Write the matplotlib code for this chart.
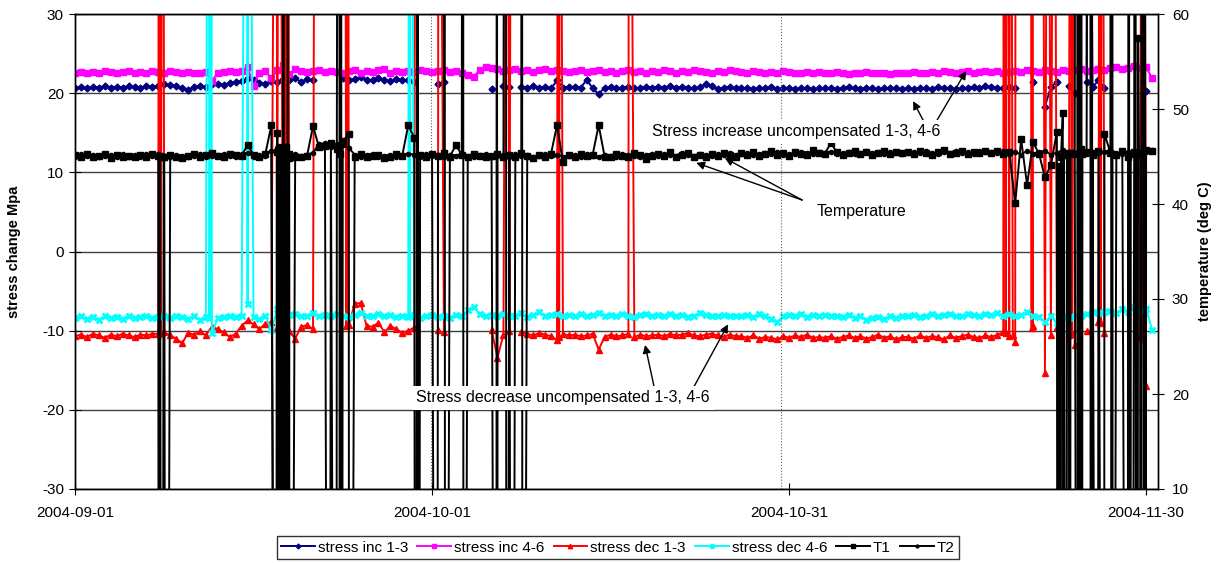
import numpy as np
import matplotlib
matplotlib.use("Agg")
import matplotlib.pyplot as plt
import matplotlib.dates as mdates

plt.rcParams['font.family'] = ['Liberation Sans', 'DejaVu Sans']
plt.rcParams['axes.unicode_minus'] = False

nan = np.nan
start = "2004-09-01"
step = 0.5   # logger values every 12 h, one row = one week

# stress inc 1-3 (Mpa)
inc13 = [20.7,20.8,20.6,20.8,20.7,20.9,20.7,20.8,20.7,20.9,20.8,20.7,20.9,20.8,
         20.9,21.1,21.0,20.9,20.6,20.4,20.8,20.9,20.8,21.1,21.2,21.0,21.3,21.4,
         21.5,21.9,21.6,21.3,21.2,21.5,21.4,21.8,21.6,21.9,21.4,21.8,21.6,nan,
         nan,nan,nan,21.9,21.6,21.8,22.0,21.7,21.6,21.9,21.7,21.5,21.8,21.6,
         21.6,21.4,nan,nan,nan,21.2,21.4,nan,nan,nan,nan,nan,nan,nan,
         20.5,nan,20.9,20.8,nan,20.8,20.7,20.9,20.7,20.8,20.6,21.6,20.7,20.8,
         20.8,20.7,21.7,20.6,19.9,20.7,20.8,20.6,20.7,20.8,20.6,20.7,20.8,20.7,
         20.8,20.7,20.9,20.7,20.8,20.7,20.6,20.8,21.1,20.9,20.5,20.7,20.8,20.6,
         20.6,20.7,20.5,20.7,20.6,20.8,20.5,20.6,20.7,20.5,20.6,20.7,20.5,20.6,
         20.6,20.7,20.5,20.6,20.8,20.6,20.5,20.7,20.6,20.5,20.6,20.7,20.6,20.5,
         20.6,20.5,20.7,20.6,20.5,20.8,20.6,20.7,20.5,20.6,20.7,20.8,20.6,20.9,
         20.8,20.7,20.6,20.8,20.7,nan,nan,21.4,nan,18.3,20.8,21.4,nan,20.9,
         20.0,nan,21.4,20.8,21.6,20.7,nan,nan,nan,nan,nan,nan,20.3,nan]
inc13_ev_day = [85.1]
inc13_ev_val = [99]

# stress inc 4-6
inc46 = [22.6,22.7,22.5,22.7,22.6,22.8,22.7,22.6,22.7,22.8,22.6,22.7,22.6,22.8,
         22.7,22.6,22.8,22.7,22.6,22.7,22.6,22.5,22.7,21.5,22.6,22.7,22.8,22.7,
         22.8,23.3,20.9,22.6,22.8,21.9,22.9,23.5,22.4,23.0,22.8,22.7,22.8,22.9,
         22.7,22.8,22.7,22.6,22.8,22.9,22.6,22.8,22.7,22.9,23.1,22.6,22.8,22.7,
         22.8,22.7,22.9,22.8,22.7,22.8,22.9,22.7,22.8,22.6,22.3,22.1,22.9,23.3,
         23.2,23.0,22.8,22.9,23.0,22.8,22.9,22.7,22.9,23.0,22.8,22.9,22.8,22.7,
         22.8,22.9,22.7,22.8,22.9,22.7,22.8,22.6,22.8,22.9,22.7,22.8,22.6,22.8,
         22.7,22.9,22.8,22.6,22.8,22.7,22.9,22.8,22.7,22.6,22.8,22.7,22.9,22.8,
         22.7,22.6,22.8,22.7,22.5,22.7,22.6,22.8,22.7,22.6,22.5,22.7,22.6,22.7,
         22.6,22.5,22.7,22.6,22.4,22.6,22.5,22.7,22.6,22.5,22.6,22.4,22.6,22.5,
         22.6,22.7,22.5,22.6,22.7,22.6,22.8,22.7,22.6,22.7,22.8,22.6,22.7,22.8,
         22.7,22.8,22.6,22.7,22.8,22.7,22.9,22.8,22.7,22.9,22.8,22.7,22.9,22.8,
         22.9,23.0,22.8,22.9,23.1,22.9,23.2,23.3,23.1,23.2,23.4,23.2,23.3,21.9]

# stress dec 1-3
dec13 = [-10.7,-10.5,-10.8,-10.4,-10.6,-10.9,-10.5,-10.7,-10.4,-10.6,-10.8,-10.5,-10.6,-10.4,
         -10.4,-10.2,-10.6,-11.0,-11.6,-10.3,-10.5,-10.1,-10.6,-9.5,-9.8,-10.2,-10.8,-10.4,
         -9.4,-8.7,-9.2,-9.8,-9.1,-8.9,-9.7,-9.3,-10.1,-11.0,-9.5,-9.3,-9.8,nan,
         nan,nan,nan,nan,-9.3,-6.6,-6.5,-9.4,-9.5,-9.0,-10.2,-9.4,-9.8,-10.3,
         -10.0,-9.6,nan,nan,nan,-9.9,-10.2,nan,nan,nan,nan,nan,nan,nan,
         -9.9,-13.4,-10.5,-10.1,nan,-10.2,-10.4,-10.6,-10.3,-10.5,-10.7,-11.2,-10.4,-10.6,
         -10.5,-10.7,-10.6,-10.4,-12.4,-10.8,-10.5,-10.7,-10.6,-10.4,-10.8,-10.5,-10.7,-10.6,
         -10.5,-10.7,-10.4,-10.6,-10.5,-10.3,-10.6,-10.7,-10.5,-10.4,-10.6,-10.8,-10.5,-10.7,
         -10.7,-10.9,-10.6,-11.0,-10.8,-10.9,-11.1,-10.7,-10.9,-10.6,-10.8,-10.5,-10.9,-10.8,
         -10.9,-10.7,-11.0,-10.8,-10.6,-10.9,-10.7,-11.0,-10.8,-10.5,-10.9,-10.7,-11.1,-10.8,
         -10.8,-11.0,-10.6,-10.9,-10.7,-10.8,-11.1,-10.6,-10.9,-10.7,-10.5,-10.8,-10.9,-10.6,
         -10.8,-10.5,-10.2,-10.7,-11.4,nan,nan,-9.4,nan,-15.3,-10.5,-9.5,nan,-10.5,
         -11.8,nan,-10.0,nan,-8.9,-10.3,nan,nan,nan,nan,nan,-10.8,-17.0,nan]
dec13_ev_day = [7.05, 7.2, 7.4, 16.9, 17.1, 17.6, 17.7, 17.8, 17.85, 17.9, 20.2,
                22.65, 22.8, 22.95, 28.65, 30.55, 36.3, 36.7, 40.6, 40.68, 40.75, 46.55,
                78.05, 78.2, 78.35, 78.6, 78.8, 79.05, 80.3, 80.38, 80.45, 81.25, 81.75,
                82.25, 83.65, 83.75, 83.85, 86.1, 86.2, 86.3, 89.65, 89.72, 89.8]
dec13_ev_val = [99, -10.3, 99, 99, 99, 99, -9.6, 99, -9.8, 99, 99,
                99, -9.4, 99, 99, 99, 99, 99, 99, -10.8, 99, 99,
                99, -10.3, 99, 99, -10.5, 99, 99, -9.6, 99, 99, 99,
                99, 99, -10.4, 99, 99, -9.0, 99, 99, -11.0, 99]

# stress dec 4-6
dec46 = [-8.4,-8.2,-8.5,-8.3,-8.6,-8.2,-8.4,-8.3,-8.5,-8.2,-8.4,-8.3,-8.2,-8.4,
         -8.3,-8.2,-8.4,-8.1,-8.3,-8.5,-8.2,-8.6,-8.3,-10.3,-8.4,-8.3,-8.2,-8.3,
         -8.2,-6.6,-8.3,-8.5,-8.2,-9.9,-7.3,-7.1,-8.0,-7.9,-8.2,-8.1,-7.8,-8.2,
         -8.0,-8.2,-7.9,-8.1,-8.3,-8.0,-7.8,-8.1,-8.2,-7.9,-8.1,-8.0,-8.3,-8.1,
         -8.3,-8.0,-8.4,-8.2,-8.0,-8.3,-8.1,-8.4,-8.0,-8.2,-7.4,-7.0,-7.9,-8.1,
         -8.0,-8.2,-7.9,-8.1,-8.2,-7.8,-8.3,-8.0,-7.7,-8.1,-8.0,-7.9,-8.2,-8.0,
         -8.1,-7.9,-8.2,-8.0,-7.8,-8.1,-8.0,-8.2,-7.9,-8.1,-8.3,-8.0,-7.9,-8.1,
         -8.0,-8.2,-7.9,-8.1,-8.0,-8.3,-8.1,-7.8,-8.0,-8.2,-8.1,-8.0,-8.2,-8.1,
         -8.2,-8.0,-8.3,-7.9,-8.1,-8.5,-8.9,-8.2,-8.0,-8.1,-7.9,-8.3,-8.0,-8.1,
         -8.0,-8.2,-8.1,-8.3,-8.0,-8.4,-8.2,-8.6,-8.4,-8.3,-8.5,-8.2,-8.4,-8.1,
         -8.2,-8.0,-8.3,-8.1,-7.9,-8.2,-8.0,-7.9,-8.1,-8.2,-7.9,-8.0,-8.1,-7.9,
         -8.0,-7.8,-8.1,-7.9,-8.2,-8.0,-7.7,-8.1,-8.3,-8.9,-8.2,-9.0,-8.3,-8.4,
         -8.1,-8.2,-7.9,-7.7,-7.8,-7.6,-7.5,-7.8,-7.3,-7.6,-7.0,-7.4,-7.2,-9.9]
dec46_ev_day = [11.2, 11.3, 11.45, 14.4, 14.6, 28.1, 28.15, 28.2]
dec46_ev_val = [99, -8.4, 99, 99, 99, 99, -8.2, 99]

# temperatures (deg C)
t1 = [45.2,45.0,45.3,44.9,45.1,45.3,44.8,45.2,45.0,45.1,44.9,45.2,45.0,45.3,
      45.1,44.9,45.2,45.0,44.8,45.1,45.3,45.0,45.2,45.4,45.1,45.0,45.3,45.2,
      45.1,46.2,45.2,45.0,45.3,48.3,47.5,45.1,44.8,45.0,44.9,45.1,48.2,46.0,
      46.1,46.4,45.8,46.6,47.4,45.0,45.3,44.9,45.1,45.2,44.8,45.0,45.3,45.1,
      48.3,47.0,45.2,45.0,45.3,45.1,45.4,45.0,46.2,45.2,44.9,45.3,45.1,45.0,
      45.1,45.3,44.9,45.2,45.0,45.4,45.1,44.8,45.2,45.0,45.3,48.3,44.4,45.2,
      45.0,45.3,45.1,45.2,48.3,45.0,44.9,45.3,45.1,45.0,45.4,45.2,44.7,45.1,
      45.3,45.1,45.5,45.0,45.2,45.4,44.9,45.2,45.0,45.3,45.1,45.4,45.2,45.0,
      45.4,45.2,45.5,45.1,45.3,45.6,45.2,45.4,45.1,45.5,45.3,45.2,45.7,45.4,
      45.3,46.4,45.5,45.2,45.4,45.6,45.3,45.5,45.2,45.4,45.6,45.3,45.5,45.4,
      45.5,45.3,45.6,45.4,45.2,45.5,45.7,45.3,45.4,45.6,45.3,45.5,45.4,45.6,
      45.4,45.6,45.3,45.5,40.1,46.8,42.0,46.5,45.3,42.8,44.1,47.6,49.6,45.4,
      45.3,45.8,45.5,45.2,45.6,47.4,45.4,45.2,45.6,45.0,45.5,45.3,45.7,45.6]
t1_ev_day = [7.05, 7.15, 7.3, 7.45, 7.65,
             16.9, 16.95, 17.05, 17.1, 17.2, 17.25, 17.3, 17.35, 17.4, 17.45, 17.52, 17.54,
             17.58, 17.65, 17.7, 17.75, 17.8, 17.85, 17.88, 17.92, 17.96, 18.03,
             21.35, 21.95, 22.2, 22.25, 22.3, 22.35, 22.4, 23.05,
             28.65, 28.8, 28.85, 30.4, 31.05, 31.1, 32.6, 32.65,
             35.4, 35.45, 35.48, 36.2, 36.25, 36.7, 37.55, 37.6,
             82.6, 82.65, 82.8, 82.85, 83.05, 83.1, 83.3, 83.35, 83.6, 83.65,
             84.2, 84.25, 84.35, 84.4, 84.55, 84.6, 84.65,
             85.3, 85.35, 85.45, 85.48, 85.9, 86.45,
             87.05, 87.1, 87.15, 87.2, 88.55, 88.6, 88.68, 88.75,
             89.1, 89.15, 89.2, 89.25, 89.33, 89.4, 89.52, 89.6, 89.75, 89.8, 89.9, 89.95]
t1_ev_val = [-99, 45.1, -99, 45.0, -99,
             -99, 45.5, -99, 46.0, -99, 44.0, -99, 45.8, -99, 44.5, 199, -99,
             45.2, -99, 46.0, -99, 44.8, -99, 199, -99, 45.3, -99,
             -99, -99, 199, -99, 45.3, 199, -99, -99,
             -99, 199, -99, -99, 199, -99, 199, -99,
             -99, 199, -99, 199, -99, -99, 199, -99,
             -99, 44.0, -99, 45.0, -99, 45.3, -99, 45.2, -99, 45.4,
             199, -99, 199, -99, 199, -99, 45.3,
             199, -99, 199, -99, -99, -99,
             199, -99, 199, -99, 199, -99, 45.3, -99,
             199, -99, 45.4, -99, 57.5, 45.4, -99, 45.3, 199, -99, 199, -99]

t2 = [45.0,45.3,45.1,45.2,44.9,45.1,45.2,44.9,45.3,45.0,45.2,45.0,45.3,45.1,
      45.3,45.1,44.9,45.2,45.1,45.0,45.1,45.3,45.0,45.1,45.2,45.3,45.1,45.0,
      45.3,45.4,45.0,45.2,45.1,45.6,45.9,45.2,45.0,45.3,45.1,45.2,45.4,46.3,
      46.4,46.0,46.3,46.2,45.9,45.2,45.0,45.2,45.3,45.0,45.1,45.2,45.0,45.2,
      45.3,45.2,45.0,45.3,45.1,45.2,45.0,45.2,45.1,45.3,45.1,45.0,45.2,45.3,
      45.0,45.1,45.2,45.0,45.3,45.1,45.2,45.0,45.1,45.3,45.1,45.2,45.0,45.1,
      45.2,45.0,45.3,45.1,45.0,45.2,45.1,45.0,45.3,45.2,45.1,45.0,45.2,45.3,
      45.1,45.3,45.2,45.1,45.4,45.2,45.1,45.3,45.2,45.1,45.3,45.2,45.4,45.2,
      45.3,45.4,45.2,45.3,45.4,45.3,45.5,45.2,45.3,45.3,45.5,45.4,45.3,45.5,
      45.4,45.5,45.3,45.4,45.5,45.3,45.4,45.6,45.4,45.5,45.3,45.5,45.4,45.3,
      45.4,45.5,45.4,45.6,45.4,45.3,45.5,45.4,45.6,45.4,45.5,45.3,45.6,45.5,
      45.5,45.4,45.6,45.3,45.5,45.2,45.6,45.3,45.5,45.6,45.2,45.4,45.7,45.5,
      45.4,45.6,45.3,45.5,45.4,45.5,45.7,45.4,45.3,45.5,45.6,45.4,45.5,45.7]
t2_ev_day = [16.98, 17.02, 17.15, 17.18, 17.62, 17.68, 17.78, 17.82,
             84.3, 84.32, 84.45, 84.48, 88.45, 88.48]
t2_ev_val = [-99, 45.6, -99, 45.3, -99, 45.2, -99, 45.4,
             -99, 45.4, -99, 45.3, -99, 45.4]

tick_dates = ["2004-09-01", "2004-10-01", "2004-10-31", "2004-11-30"]
marker_days = [29.9, 59.3]   # dotted vertical markers

x0 = mdates.datestr2num(start)


def build(base, ev_day, ev_val):
    d = np.concatenate([np.arange(len(base)) * step, ev_day])
    v = np.concatenate([np.array(base, float), np.array(ev_val, float)])
    o = np.argsort(d, kind="stable")
    return x0 + d[o], v[o]


fig = plt.figure(figsize=(12.21, 5.63), dpi=100)
ax = fig.add_axes([75/1221, 1-489/563, 1083/1221, 475/563])
ax2 = ax.twinx()

lw = 1.4
h = []
x, y = build(inc13, inc13_ev_day, inc13_ev_val)
h += ax.plot(x, y, color="#000080", lw=lw, marker="D", ms=3.5, label="stress inc 1-3")
x, y = build(inc46, [], [])
h += ax.plot(x, y, color="#FF00FF", lw=lw, marker="s", ms=4, label="stress inc 4-6")
x, y = build(dec13, dec13_ev_day, dec13_ev_val)
h += ax.plot(x, y, color="#FF0000", lw=lw, marker="^", ms=4.5, label="stress dec 1-3")
x, y = build(dec46, dec46_ev_day, dec46_ev_val)
h += ax.plot(x, y, color="#00FFFF", lw=lw, marker="x", ms=4.5, mew=2, label="stress dec 4-6")
x, y = build(t1, t1_ev_day, t1_ev_val)
h += ax2.plot(x, y, color="black", lw=lw, marker="s", ms=4, label="T1")
x, y = build(t2, t2_ev_day, t2_ev_val)
h += ax2.plot(x, y, color="black", lw=lw, marker="o", ms=3, label="T2")

for d in marker_days:
    ax.axvline(x0 + d, color="#606060", ls=":", lw=0.8)

ax.set_xlim(x0, x0 + 91)
ax.set_ylim(-30, 30)
ax2.set_ylim(10, 60)
ax.set_yticks(range(-30, 31, 10))
ax2.set_yticks(range(10, 61, 10))
ax.set_xticks(mdates.datestr2num(tick_dates))
ax.xaxis.set_major_formatter(mdates.DateFormatter("%Y-%m-%d"))
ax.yaxis.grid(True, color="#404040", lw=1)
ax.set_axisbelow(True)

ax.tick_params(axis="y", direction="inout", length=8, labelsize=11, pad=4)
ax.tick_params(axis="x", direction="inout", length=8, labelsize=11, pad=8)
ax2.tick_params(axis="y", direction="inout", length=8, labelsize=11, pad=6)
for a in (ax, ax2):
    for s in a.spines.values():
        s.set_color("black")
        s.set_linewidth(1)

ax.set_ylabel("stress change Mpa", fontsize=10.5, fontweight="bold")
ax.yaxis.set_label_coords(-0.05, 0.5)
ax2.set_ylabel("temperature (deg C)", fontsize=10.5, fontweight="bold")
ax2.yaxis.set_label_coords(1.037, 0.5)

# annotations, placed in left-axis coordinates but drawn on top of everything
box = dict(facecolor="white", edgecolor="none", pad=3)
arrow = dict(arrowstyle="-|>", color="black", lw=1, mutation_scale=12, shrinkA=0, shrinkB=0)
notes = [("Stress increase uncompensated 1-3, 4-6", 60.6, 15.2,
          [((71.26, 16.6), (70.42, 19.0)), ((72.44, 16.6), (74.87, 22.8))]),
         ("Temperature", 66.1, 5.1,
          [((61.1, 6.5), (52.2, 11.2)), ((61.1, 6.5), (54.6, 11.8))]),
         ("Stress decrease uncompensated 1-3, 4-6", 41.0, -18.5,
          [((48.66, -17.1), (47.9, -11.8)), ((52.0, -17.1), (54.87, -9.2))])]
for txt, tx, ty, arrows in notes:
    for (ax_, ay_), (bx_, by_) in arrows:
        ax2.annotate("", xy=(x0 + bx_, by_), xytext=(x0 + ax_, ay_),
                     xycoords=ax.transData, textcoords=ax.transData, arrowprops=arrow)
    ax2.text(x0 + tx, ty, txt, transform=ax.transData, ha="center", va="center",
             fontsize=11.5, bbox=box, zorder=5)

leg = fig.legend(h, [l.get_label() for l in h], loc="center", bbox_to_anchor=(0.506, 0.0275),
                 ncol=6, fontsize=11, frameon=True, fancybox=False, edgecolor="black",
                 handlelength=2.2, handletextpad=0.2, columnspacing=0.6, borderpad=0.3,
                 markerscale=0.7)
leg.get_frame().set_linewidth(1)

fig.savefig("out.png", dpi=100)
